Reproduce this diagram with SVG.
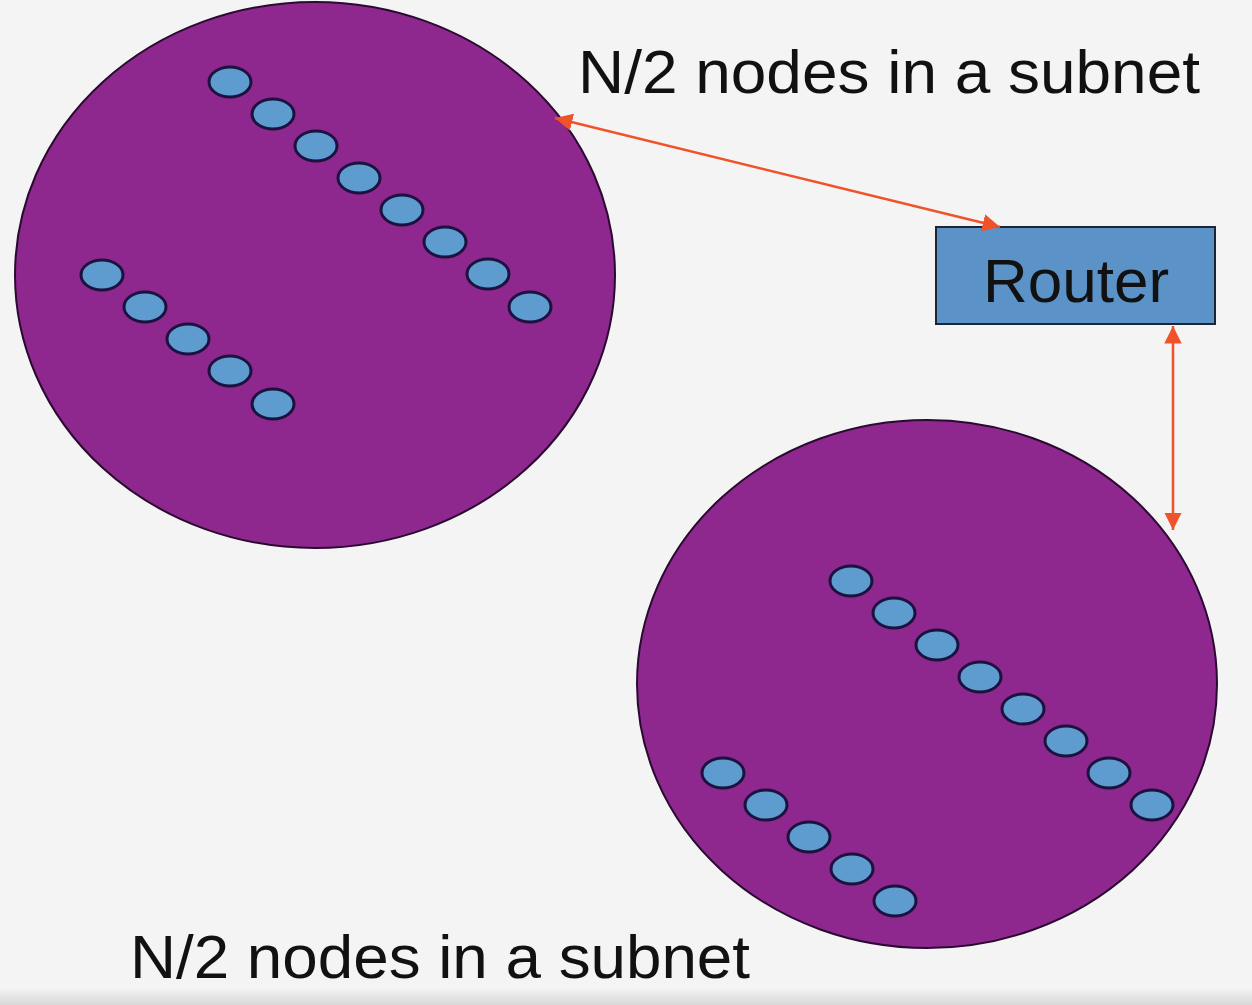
<svg xmlns="http://www.w3.org/2000/svg" width="1252" height="1005" viewBox="0 0 1252 1005">
<style>
.subnet{fill:#8E278E;stroke:#2a0a30;stroke-width:2}
.host{fill:#5E9BCF;stroke:#1c1240;stroke-width:3}
.lbl{font-family:"Liberation Sans",Arial,sans-serif;fill:#111;font-size:62px}
.link{stroke:#F0522A;stroke-width:2.5;fill:none}
</style>
<defs>
<marker id="ah" viewBox="0 0 10 10" refX="10" refY="5" markerWidth="7" markerHeight="7" orient="auto-start-reverse" markerUnits="strokeWidth">
<path d="M0,0 L10,5 L0,10 z" fill="#F0522A"/>
</marker>
<linearGradient id="bot" x1="0" y1="0" x2="0" y2="1">
<stop offset="0" stop-color="#f4f4f4"/>
<stop offset="1" stop-color="#d8d8d8"/>
</linearGradient>
</defs>
<rect width="1252" height="1005" fill="#F4F4F4"/>
<rect x="0" y="988" width="1252" height="17" fill="url(#bot)"/>

<g id="subnet1">
<ellipse class="subnet" cx="315" cy="275" rx="300" ry="273"/>
<g>
<ellipse class="host" cx="230" cy="82" rx="21" ry="15"/>
<ellipse class="host" cx="273" cy="114" rx="21" ry="15"/>
<ellipse class="host" cx="316" cy="146" rx="21" ry="15"/>
<ellipse class="host" cx="359" cy="178" rx="21" ry="15"/>
<ellipse class="host" cx="402" cy="210" rx="21" ry="15"/>
<ellipse class="host" cx="445" cy="242" rx="21" ry="15"/>
<ellipse class="host" cx="488" cy="274" rx="21" ry="15"/>
<ellipse class="host" cx="530" cy="307" rx="21" ry="15"/>
<ellipse class="host" cx="102" cy="275" rx="21" ry="15"/>
<ellipse class="host" cx="145" cy="307" rx="21" ry="15"/>
<ellipse class="host" cx="188" cy="339" rx="21" ry="15"/>
<ellipse class="host" cx="230" cy="371" rx="21" ry="15"/>
<ellipse class="host" cx="273" cy="404" rx="21" ry="15"/>
</g>
</g>

<g id="subnet2">
<ellipse class="subnet" cx="927" cy="684" rx="290" ry="264"/>
<g>
<ellipse class="host" cx="851" cy="581" rx="21" ry="15"/>
<ellipse class="host" cx="894" cy="613" rx="21" ry="15"/>
<ellipse class="host" cx="937" cy="645" rx="21" ry="15"/>
<ellipse class="host" cx="980" cy="677" rx="21" ry="15"/>
<ellipse class="host" cx="1023" cy="709" rx="21" ry="15"/>
<ellipse class="host" cx="1066" cy="741" rx="21" ry="15"/>
<ellipse class="host" cx="1109" cy="773" rx="21" ry="15"/>
<ellipse class="host" cx="1152" cy="805" rx="21" ry="15"/>
<ellipse class="host" cx="723" cy="773" rx="21" ry="15"/>
<ellipse class="host" cx="766" cy="805" rx="21" ry="15"/>
<ellipse class="host" cx="809" cy="837" rx="21" ry="15"/>
<ellipse class="host" cx="852" cy="869" rx="21" ry="15"/>
<ellipse class="host" cx="895" cy="901" rx="21" ry="15"/>
</g>
</g>

<g id="router">
<rect x="936" y="227" width="279" height="97" fill="#5B93C8" stroke="#1a2535" stroke-width="2"/>
<text class="lbl" x="1076" y="302" text-anchor="middle">Router</text>
</g>

<g id="label-top">
<text class="lbl" x="578" y="93" textLength="622" lengthAdjust="spacingAndGlyphs">N/2 nodes in a subnet</text>
</g>
<g id="label-bottom">
<text class="lbl" x="130" y="978" textLength="620" lengthAdjust="spacingAndGlyphs">N/2 nodes in a subnet</text>
</g>

<g id="connectors">
<line class="link" x1="555" y1="118" x2="1000" y2="227" marker-start="url(#ah)" marker-end="url(#ah)"/>
<line class="link" x1="1173" y1="326" x2="1173" y2="530" marker-start="url(#ah)" marker-end="url(#ah)"/>
</g>
</svg>
